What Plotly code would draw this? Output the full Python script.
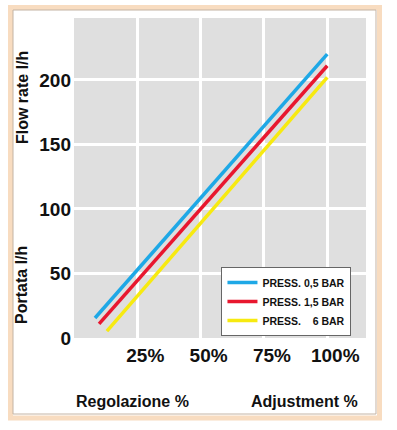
import plotly.graph_objects as go

# ---- data ----
series_names = ["PRESS. 0,5 BAR", "PRESS. 1,5 BAR", "PRESS. \u00a0\u00a0\u00a06 BAR"]
series_colors = ["#1ea8e6", "#e8172f", "#f7ea10"]
adjust_05 = [8.3, 100]
flow_05 = [15.5, 220]
adjust_15 = [9.9, 100]
flow_15 = [10.9, 211]
adjust_6 = [13.0, 100]
flow_6 = [5.4, 202]

x_tickvals = [25, 50, 75, 100]
x_ticktext = ["25%", "50%", "75%", "100%"]
y_tickvals = [0, 50, 100, 150, 200]
y_ticktext = ["0", "50", "100", "150", "200"]

FONT = "Liberation Sans"

fig = go.Figure()
for xs, ys, name, col in zip([adjust_05, adjust_15, adjust_6],
                             [flow_05, flow_15, flow_6],
                             series_names, series_colors):
    fig.add_trace(go.Scatter(x=xs, y=ys, mode="lines", name=name,
                             line=dict(color=col, width=3.5)))

fig.update_layout(
    width=397, height=430,
    margin=dict(l=74, r=31, t=18, b=92),
    paper_bgcolor="white",
    plot_bgcolor="#dfdfdf",
    showlegend=True,
    legend=dict(x=0.505, y=0.222, xanchor="left", yanchor="top",
                bgcolor="white", bordercolor="#666666", borderwidth=1,
                font=dict(family=FONT, size=10.5, color="#111111", weight="bold"),
                tracegroupgap=0, itemwidth=30),
    xaxis=dict(range=[0, 115.3], tickvals=x_tickvals, ticktext=x_ticktext,
               showgrid=True, gridcolor="white", gridwidth=3, zeroline=False,
               showline=False, ticks="", ticklabelshift=8, ticklabelstandoff=4,
               tickfont=dict(family=FONT, size=19, color="#111111", weight="bold")),
    yaxis=dict(range=[0, 248], tickvals=y_tickvals, ticktext=y_ticktext,
               showgrid=True, gridcolor="white", gridwidth=3, zeroline=False,
               showline=False, ticks="", ticklabelstandoff=2,
               tickfont=dict(family=FONT, size=19, color="#111111", weight="bold")),
)

title_font = dict(family=FONT, size=16, color="#111111", weight="bold")
common = dict(xref="paper", yref="paper", showarrow=False, font=title_font,
              xanchor="center", yanchor="middle")
fig.add_annotation(text="Flow rate l/h", x=-0.178, y=0.75, textangle=-90, **common)
fig.add_annotation(text="Portata l/h", x=-0.178, y=0.166, textangle=-90, **common)
fig.add_annotation(text="Regolazione %", x=0.202, y=-0.197, **common)
fig.add_annotation(text="Adjustment %", x=0.791, y=-0.197, **common)

# decorative frame
fig.add_shape(type="rect", xref="paper", yref="paper",
              x0=-0.2175, x1=1.0462, y0=-0.25, y1=1.0328,
              line=dict(color="#f8dcc0", width=5), fillcolor="rgba(0,0,0,0)", layer="above")
fig.add_shape(type="rect", xref="paper", yref="paper",
              x0=-0.2089, x1=1.0342, y0=-0.2375, y1=1.025,
              line=dict(color="#c4b4a4", width=1), fillcolor="rgba(0,0,0,0)", layer="above")

fig.write_html("out.html", config={"displayModeBar": False},
               post_script="document.body.style.margin='0px';")
